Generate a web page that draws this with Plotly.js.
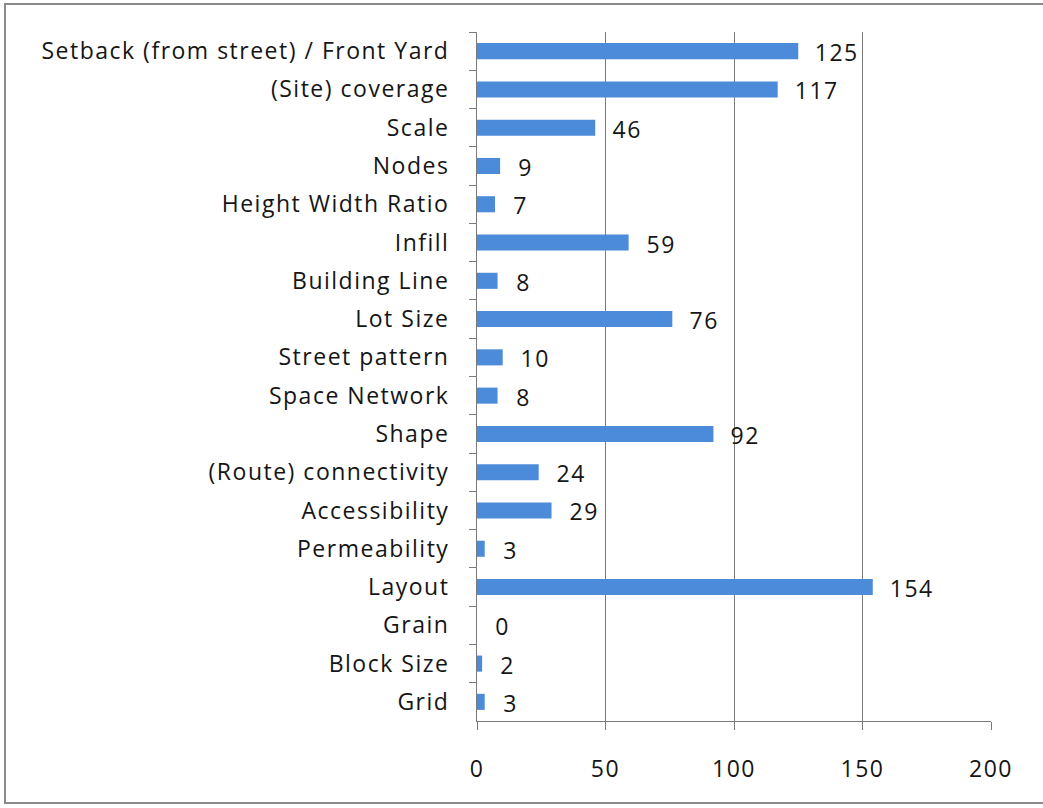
<!DOCTYPE html>
<html>
<head>
<meta charset="utf-8">
<script src="https://cdn.plot.ly/plotly-3.0.1.min.js"></script>
<style>
  html, body { margin: 0; background: #fff; overflow: hidden; }
  #frame {
    position: absolute; left: 4px; top: 3px;
    width: 1080px; height: 801px;
    border: 2px solid #8a8a8a;
    box-sizing: border-box;
  }
  #chart { position: absolute; left: 0; top: 0; width: 1043px; height: 808px; }
  /* the scanned original has loosely spaced letters */
  #chart text { letter-spacing: 1.5px; }
</style>
</head>
<body>
<div id="frame"></div>
<div id="chart"></div>
<script>
// categories, top to bottom as in the picture
const categories = [
    "Setback (from street) / Front Yard",
    "(Site) coverage",
    "Scale",
    "Nodes",
    "Height Width Ratio",
    "Infill",
    "Building Line",
    "Lot Size",
    "Street pattern",
    "Space Network",
    "Shape",
    "(Route) connectivity",
    "Accessibility",
    "Permeability",
    "Layout",
    "Grain",
    "Block Size",
    "Grid"
];
const counts = [125, 117, 46, 9, 7, 59, 8, 76, 10, 8, 92, 24, 29, 3, 154, 0, 2, 3];
const xTicks = [0, 50, 100, 150, 200];

const textFont = { family: "Open Sans, sans-serif", size: 23, color: "#151515" };

// value labels sit a bit right of the bar end
const labels = categories.map((c, i) => ({
    x: counts[i],
    y: c,
    xref: "x", yref: "y",
    text: String(counts[i]),
    showarrow: false,
    xanchor: "left",
    xshift: 17,
    yshift: -1,
    font: textFont
}));

Plotly.newPlot("chart", [{
    type: "bar",
    orientation: "h",
    x: counts,
    y: categories,
    marker: { color: "#4C8ADA" },
    hoverinfo: "x+y"
}], {
    width: 1043,
    height: 808,
    margin: { l: 477, r: 52, t: 32, b: 87 },
    paper_bgcolor: "rgba(0,0,0,0)",
    plot_bgcolor: "rgba(0,0,0,0)",
    bargap: 0.58,
    showlegend: false,
    font: textFont,
    xaxis: {
        range: [0, 200],
        tickvals: xTicks,
        ticks: "outside",
        ticklen: 8,
        tickcolor: "#7a7a7a",
        ticklabelstandoff: 19,
        showgrid: true,
        gridcolor: "#7a7a7a",
        gridwidth: 1,
        zeroline: false,
        showline: true,
        linecolor: "#7a7a7a",
        tickfont: textFont,
        fixedrange: true
    },
    yaxis: {
        type: "category",
        autorange: "reversed",
        ticks: "outside",
        tickson: "boundaries",
        ticklen: 7,
        tickcolor: "#7a7a7a",
        ticklabelstandoff: 22,
        showgrid: false,
        showline: true,
        linecolor: "#7a7a7a",
        tickfont: textFont,
        fixedrange: true
    },
    annotations: labels
}, { displayModeBar: false, staticPlot: true });
</script>
</body>
</html>
